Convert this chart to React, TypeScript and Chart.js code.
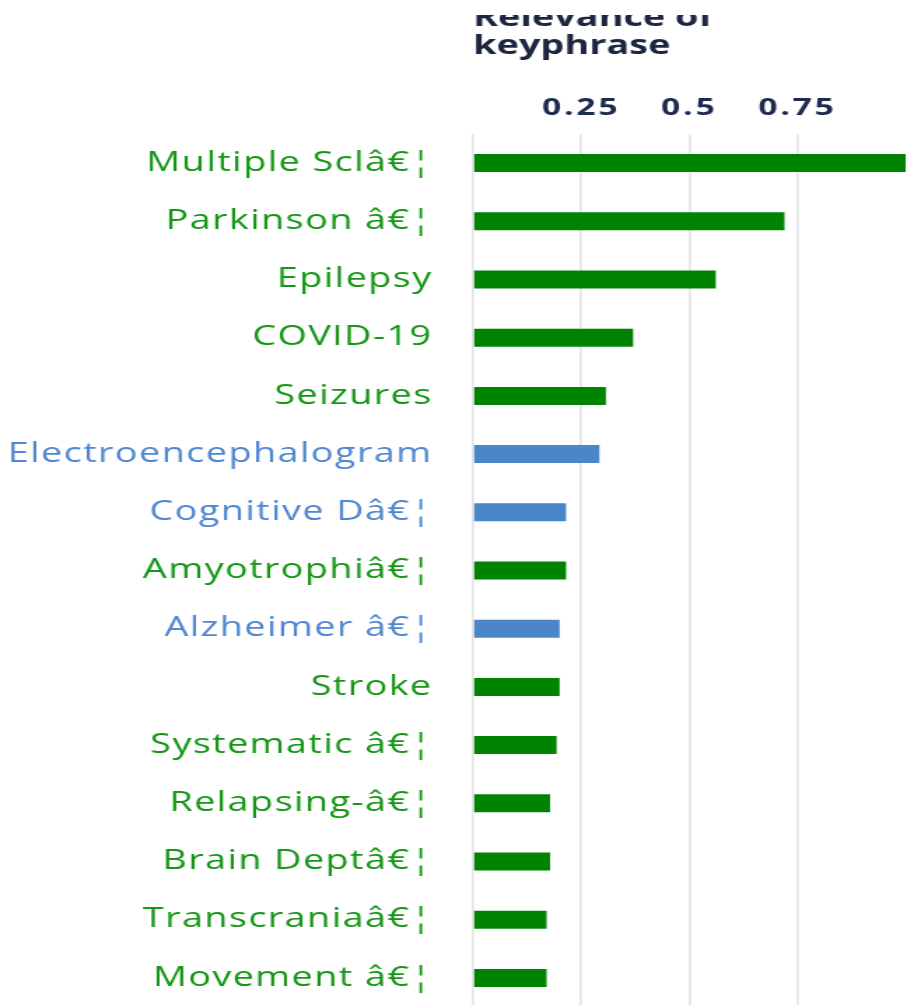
import React, { useEffect, useRef } from 'react';
import { Chart, registerables } from 'chart.js';

Chart.register(...registerables);

// ---- data ----
const categories = [
  'Multiple Sclâ€¦',
  'Parkinson â€¦',
  'Epilepsy',
  'COVID-19',
  'Seizures',
  'Electroencephalogram',
  'Cognitive Dâ€¦',
  'Amyotrophiâ€¦',
  'Alzheimer â€¦',
  'Stroke',
  'Systematic â€¦',
  'Relapsing-â€¦',
  'Brain Deptâ€¦',
  'Transcraniaâ€¦',
  'Movement â€¦',
];
const relevance = [1.0, 0.72, 0.561, 0.37, 0.307, 0.292, 0.215, 0.215, 0.2, 0.2, 0.193, 0.178, 0.178, 0.17, 0.17];
const groups = ['green', 'green', 'green', 'green', 'green', 'blue', 'blue', 'green', 'blue', 'green', 'green', 'green', 'green', 'green', 'green'];
const xTickValues = [0.25, 0.5, 0.75];
const axisTitle = ['Relevance of', 'keyphrase'];

// ---- styling ----
const BAR_COLORS: Record<string, string> = { green: '#008300', blue: '#4a86c8' };
const LABEL_COLORS: Record<string, string> = { green: '#159615', blue: '#5087d0' };
const STRETCH = 1.4;
const VIEW_W = 907;
const VIEW_H = 1005;
const CANVAS_W = Math.round(VIEW_W / STRETCH);
const TOP_SHIFT = 3;
const CANVAS_H = 1007 + TOP_SHIFT;
const FONT = "'Open Sans', 'DejaVu Sans', sans-serif";

function withSpacing(obj: any, method: string, spacing: string) {
  const key = '__patched_' + method;
  if (!obj || obj[key]) return;
  const orig = obj[method];
  obj[method] = function (...args: any[]) {
    const c = this.ctx;
    const prev = c.letterSpacing;
    try { c.letterSpacing = spacing; } catch (e) {}
    const r = orig.apply(this, args);
    try { c.letterSpacing = prev; } catch (e) {}
    return r;
  };
  obj[key] = true;
}

const spacingPlugin = {
  id: 'letterSpacing',
  beforeUpdate(chart: any) {
    try { chart.ctx.letterSpacing = '1px'; } catch (e) {}
  },
  afterLayout(chart: any) {
    withSpacing(chart.scales.x, 'drawTitle', '0px');
    withSpacing(chart.scales.x, 'drawLabels', '2px');
    withSpacing(chart.scales.y, 'drawLabels', '1px');
  },
};

export default function App() {
  const ref = useRef<HTMLCanvasElement>(null);

  useEffect(() => {
    const canvas = ref.current;
    if (!canvas) return;
    const chart = new Chart(canvas, {
      type: 'bar',
      data: {
        labels: categories,
        datasets: [
          {
            data: relevance,
            backgroundColor: groups.map((g) => BAR_COLORS[g]),
            borderWidth: 0,
            barPercentage: 0.31,
            categoryPercentage: 1,
          },
        ],
      },
      plugins: [spacingPlugin],
      options: {
        indexAxis: 'y',
        responsive: false,
        animation: false,
        devicePixelRatio: 1,
        layout: { padding: { left: 0, right: 1, top: 0, bottom: 0 } },
        plugins: {
          legend: { display: false },
          tooltip: { enabled: false },
        },
        scales: {
          x: {
            position: 'top',
            min: 0,
            max: 1,
            afterBuildTicks: (scale: any) => {
              scale.ticks = [0, ...xTickValues, 1].map((v) => ({ value: v }));
            },
            afterFit: (scale: any) => {
              scale.height = 137;
              scale.paddingLeft = 0;
              scale.paddingRight = 0;
            },
            ticks: {
              callback: (v: any) => (xTickValues.includes(Number(v)) ? String(v) : ''),
              color: '#1d2b4f',
              padding: 11,
              font: { family: FONT, size: 24, weight: 'bold' },
            },
            grid: {
              drawTicks: false,
              lineWidth: 1.6,
              color: (ctx: any) => (ctx.tick && ctx.tick.value === 1 ? 'rgba(0,0,0,0)' : '#e3e3e3'),
            },
            border: { display: false },
            title: {
              display: true,
              text: axisTitle,
              align: 'start',
              color: '#1d2540',
              padding: { top: 7.5, bottom: 0 },
              font: { family: FONT, size: 27, weight: 'bold', lineHeight: 1.04 },
            },
          },
          y: {
            afterFit: (scale: any) => {
              scale.width = 338;
              scale.paddingTop = 0;
              scale.paddingBottom = 0;
            },
            grid: { display: false, drawTicks: false },
            border: { display: false },
            ticks: {
              padding: 29,
              color: (ctx: any) => LABEL_COLORS[groups[ctx.index]] || '#159615',
              font: { family: FONT, size: 27, weight: '500' },
            },
          },
        },
      },
    } as any);
    return () => chart.destroy();
  }, []);

  return (
    <div
      style={{
        position: 'absolute',
        left: 0,
        top: 0,
        width: VIEW_W,
        height: VIEW_H,
        overflow: 'hidden',
        background: '#ffffff',
      }}
    >
      <canvas
        ref={ref}
        width={CANVAS_W}
        height={CANVAS_H}
        style={{
          position: 'absolute',
          left: 0,
          top: -TOP_SHIFT,
          width: VIEW_W + 'px',
          height: CANVAS_H + 'px',
        }}
      />
      <div
        style={{
          position: 'absolute',
          left: 0,
          top: 0,
          width: VIEW_W,
          height: 15,
          background: '#ffffff',
        }}
      />
    </div>
  );
}
